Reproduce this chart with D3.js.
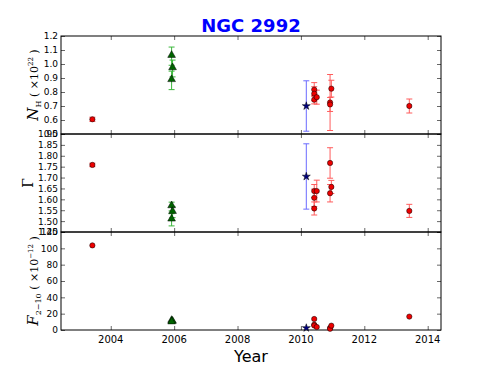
<!DOCTYPE html>
<html>
<head>
<meta charset="utf-8">
<script src="https://d3js.org/d3.v7.min.js"></script>
<style>
    body { margin: 0; background: #fff; }
    svg { display: block; }
    .tick-label { font-family: "DejaVu Sans", sans-serif; fill: #000; }
    .math { font-family: "DejaVu Serif", serif; fill: #000; }
</style>
</head>
<body>
<script>
// Observation dates (decimal year)
var years = [2003.42, 2005.92, 2005.95, 2005.92, 2010.17,
             2010.42, 2010.42, 2010.42, 2010.50,
             2010.92, 2010.92, 2010.96, 2013.42];

// Which instrument group each observation belongs to
var groups = ["red", "green", "green", "green", "blue",
              "red", "red", "red", "red",
              "red", "red", "red", "red"];

// Column density N_H (x10^22) and its error
var nh    = [0.605, 1.056, 0.968, 0.883, 0.70, 0.817, 0.788, 0.745, 0.763, 0.725, 0.711, 0.824, 0.70];
var nhErr = [0.015, 0.065, 0.06, 0.066, 0.18, 0.05, 0.05, 0.03, 0.05, 0.2, 0.05, 0.06, 0.05];

// Photon index Gamma and its error
var gamma    = [1.758, 1.567, 1.541, 1.506, 1.705, 1.638, 1.607, 1.558, 1.638, 1.767, 1.628, 1.657, 1.547];
var gammaErr = [0.008, 0.02, 0.025, 0.028, 0.15, 0.03, 0.04, 0.03, 0.05, 0.07, 0.04, 0.03, 0.03];

// 2-10 keV flux (x10^-12)
var flux = [103.6, 10.8, 9.8, 9.0, 2.5, 13.5, 6.5, 5.5, 3.7, 2.5, 1.5, 5.3, 16.4];

// Tick values
var yearTicks  = [2004, 2006, 2008, 2010, 2012, 2014];
var nhTicks    = [0.5, 0.6, 0.7, 0.8, 0.9, 1.0, 1.1, 1.2];
var gammaTicks = [1.45, 1.50, 1.55, 1.60, 1.65, 1.70, 1.75, 1.80, 1.85, 1.90];
var fluxTicks  = [0, 20, 40, 60, 80, 100, 120];

window.onload = drawChart;

function drawChart(){

    var width = 491,
        height = 368;

    var left = 61,
        right = 441,
        panelH = 98,
        tops = [36, 134, 232];

    var svg = d3.select("body")
        .append("svg")
        .attr("width", width)
        .attr("height", height);

    // shared x scale
    var x = d3.scaleLinear()
        .domain([2002.43, 2014.42])
        .range([left, right]);

    var colors = {
        red:   { fill: "#ee0000", err: "#ff5c5c" },
        green: { fill: "#006400", err: "#3cb83c" },
        blue:  { fill: "#000080", err: "#6b6bff" }
    };

    var panels = [
        { values: nh, errs: nhErr, domain: [0.5, 1.2], ticks: nhTicks, fmt: d3.format(".1f") },
        { values: gamma, errs: gammaErr, domain: [1.45, 1.90], ticks: gammaTicks, fmt: d3.format(".2f") },
        { values: flux, errs: null, domain: [0, 120], ticks: fluxTicks, fmt: d3.format("d") }
    ];

    panels.forEach(function(p, i){
        var top = tops[i],
            bottom = top + panelH;

        var y = d3.scaleLinear()
            .domain(p.domain)
            .range([bottom, top]);

        var g = svg.append("g");

        // Inward ticks on all four sides (matplotlib classic style)
        var xAxB = d3.axisBottom(x).tickValues(yearTicks).tickSize(-4).tickFormat("");
        var xAxT = d3.axisTop(x).tickValues(yearTicks).tickSize(-4).tickFormat("");
        var yAxL = d3.axisLeft(y).tickValues(p.ticks).tickSize(-4).tickPadding(3).tickFormat(p.fmt);
        var yAxR = d3.axisRight(y).tickValues(p.ticks).tickSize(-4).tickFormat("");

        g.append("g").attr("transform", "translate(0," + bottom + ")").call(xAxB);
        g.append("g").attr("transform", "translate(0," + top + ")").call(xAxT);
        g.append("g").attr("class", "yl").attr("transform", "translate(" + left + ",0)").call(yAxL);
        g.append("g").attr("transform", "translate(" + right + ",0)").call(yAxR);

        g.selectAll(".domain").remove();
        g.selectAll(".tick line").attr("stroke", "#000").attr("stroke-width", 0.6);
        g.selectAll(".yl text")
            .attr("class", "tick-label")
            .style("font-size", "9px")
            .attr("x", -3);

        // frame
        g.append("rect")
            .attr("x", left)
            .attr("y", top)
            .attr("width", right - left)
            .attr("height", panelH)
            .attr("fill", "none")
            .attr("stroke", "#000")
            .attr("stroke-width", 1);

        // year labels only under the last panel
        if (i === 2) {
            g.selectAll(".xlab")
                .data(yearTicks)
                .enter()
                .append("text")
                .attr("class", "tick-label")
                .attr("x", function(d){ return x(d); })
                .attr("y", bottom + 13)
                .attr("text-anchor", "middle")
                .style("font-size", "10px")
                .text(function(d){ return d; });
        }

        // error bars
        if (p.errs) {
            var idx = d3.range(years.length);
            var eb = g.selectAll(".err")
                .data(idx)
                .enter()
                .append("g")
                .attr("stroke", function(k){ return colors[groups[k]].err; })
                .attr("stroke-width", 1);
            eb.append("line")
                .attr("x1", function(k){ return x(years[k]); })
                .attr("x2", function(k){ return x(years[k]); })
                .attr("y1", function(k){ return y(p.values[k] - p.errs[k]); })
                .attr("y2", function(k){ return y(p.values[k] + p.errs[k]); });
            [-1, 1].forEach(function(s){
                eb.append("line")
                    .attr("x1", function(k){ return x(years[k]) - 3; })
                    .attr("x2", function(k){ return x(years[k]) + 3; })
                    .attr("y1", function(k){ return y(p.values[k] + s * p.errs[k]); })
                    .attr("y2", function(k){ return y(p.values[k] + s * p.errs[k]); });
            });
        }

        // markers: circles, triangles and the star
        var shapes = { red: d3.symbolCircle, green: d3.symbolTriangle, blue: d3.symbolStar };
        var sizes = { red: 22, green: 26, blue: 20 };
        g.selectAll(".pt")
            .data(d3.range(years.length))
            .enter()
            .append("path")
            .attr("d", function(k){ return d3.symbol().type(shapes[groups[k]]).size(sizes[groups[k]])(); })
            .attr("transform", function(k){
                var dy = groups[k] === "green" ? -1 : 0;
                return "translate(" + x(years[k]) + "," + (y(p.values[k]) + dy) + ")";
            })
            .attr("fill", function(k){ return colors[groups[k]].fill; })
            .attr("stroke", "#000")
            .attr("stroke-width", 0.5);
    });

    // Title
    svg.append("text")
        .attr("x", (left + right) / 2)
        .attr("y", 32)
        .attr("text-anchor", "middle")
        .style("font-family", "DejaVu Sans, sans-serif")
        .style("font-weight", "bold")
        .style("font-size", "18px")
        .attr("fill", "#0000ff")
        .text("NGC 2992");

    // x label
    svg.append("text")
        .attr("x", (left + right) / 2)
        .attr("y", 362)
        .attr("text-anchor", "middle")
        .style("font-family", "DejaVu Sans, sans-serif")
        .style("font-size", "16px")
        .text("Year");

    // y labels (rotated, mathtext-like)
    var nhLab = svg.append("text")
        .attr("class", "math")
        .attr("transform", "translate(38," + (tops[0] + panelH / 2) + ") rotate(-90)")
        .attr("text-anchor", "middle");
    nhLab.append("tspan").style("font-style", "italic").style("font-size", "15px").text("N");
    nhLab.append("tspan").style("font-size", "8px").attr("dy", 3).text("H");
    nhLab.append("tspan").style("font-size", "11px").attr("dy", -3).text(" ( ×10");
    nhLab.append("tspan").style("font-size", "7px").attr("dy", -5).text("22");
    nhLab.append("tspan").style("font-size", "11px").attr("dy", 5).text(" )");

    svg.append("text")
        .attr("class", "math")
        .attr("transform", "translate(33," + (tops[1] + panelH / 2) + ") rotate(-90)")
        .attr("text-anchor", "middle")
        .style("font-size", "14px")
        .text("Γ");

    var fLab = svg.append("text")
        .attr("class", "math")
        .attr("transform", "translate(38," + (tops[2] + panelH / 2) + ") rotate(-90)")
        .attr("text-anchor", "middle");
    fLab.append("tspan").style("font-style", "italic").style("font-size", "15px").text("F");
    fLab.append("tspan").style("font-size", "8px").attr("dy", 3).text("2−10");
    fLab.append("tspan").style("font-size", "11px").attr("dy", -3).text(" ( ×10");
    fLab.append("tspan").style("font-size", "7px").attr("dy", -5).text("−12");
    fLab.append("tspan").style("font-size", "11px").attr("dy", 5).text(" )");
}
</script>
</body>
</html>
